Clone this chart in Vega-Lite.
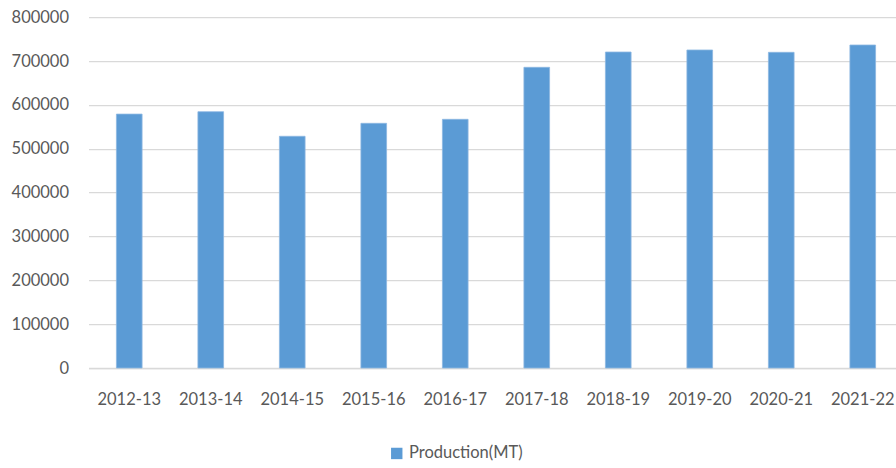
{
  "$schema": "https://vega.github.io/schema/vega-lite/v6.json",
  "autosize": {"type": "none"},
  "width": 807.5,
  "height": 350.8,
  "padding": {"left": 88.5, "top": 17.2, "right": 0, "bottom": 100},
  "background": "white",
  "data": {
    "values": [
      {"year": "2012-13", "production": 579000},
      {"year": "2013-14", "production": 584500},
      {"year": "2014-15", "production": 528400},
      {"year": "2015-16", "production": 558000},
      {"year": "2016-17", "production": 567100},
      {"year": "2017-18", "production": 685700},
      {"year": "2018-19", "production": 720600},
      {"year": "2019-20", "production": 725200},
      {"year": "2020-21", "production": 719900},
      {"year": "2021-22", "production": 736600}
    ]
  },
  "config": {
    "view": {"stroke": null},
    "font": "Lato",
    "axis": {"labelFont": "Lato", "labelFontSize": 16.5, "labelColor": "#595959"},
    "legend": {"labelFont": "Lato", "labelFontSize": 16.5, "labelColor": "#595959"}
  },
  "mark": {"type": "bar", "stroke": "#8DB8E2", "strokeWidth": 0.8},
  "encoding": {
    "x": {
      "field": "year",
      "type": "nominal",
      "sort": null,
      "scale": {"range": [0, 815], "paddingInner": 0.685, "paddingOuter": 0.3425},
      "axis": {
        "title": null,
        "labelAngle": 0,
        "ticks": false,
        "domain": true,
        "domainColor": "#D9D9D9",
        "domainWidth": 1.3,
        "labelPadding": 23
      }
    },
    "y": {
      "field": "production",
      "type": "quantitative",
      "scale": {"domain": [0, 800000], "nice": false},
      "axis": {
        "title": null,
        "values": [0, 100000, 200000, 300000, 400000, 500000, 600000, 700000, 800000],
        "format": "d",
        "ticks": false,
        "domain": false,
        "grid": true,
        "gridColor": "#D9D9D9",
        "gridWidth": 1.3,
        "labelPadding": 20
      }
    },
    "color": {
      "datum": "Production(MT)",
      "type": "nominal",
      "scale": {"range": ["#5B9BD5"]},
      "legend": {
        "title": null,
        "orient": "none",
        "legendX": 300,
        "legendY": 428,
        "symbolType": "square",
        "symbolSize": 130,
        "symbolStrokeWidth": 0,
        "labelOffset": 4
      }
    }
  }
}
